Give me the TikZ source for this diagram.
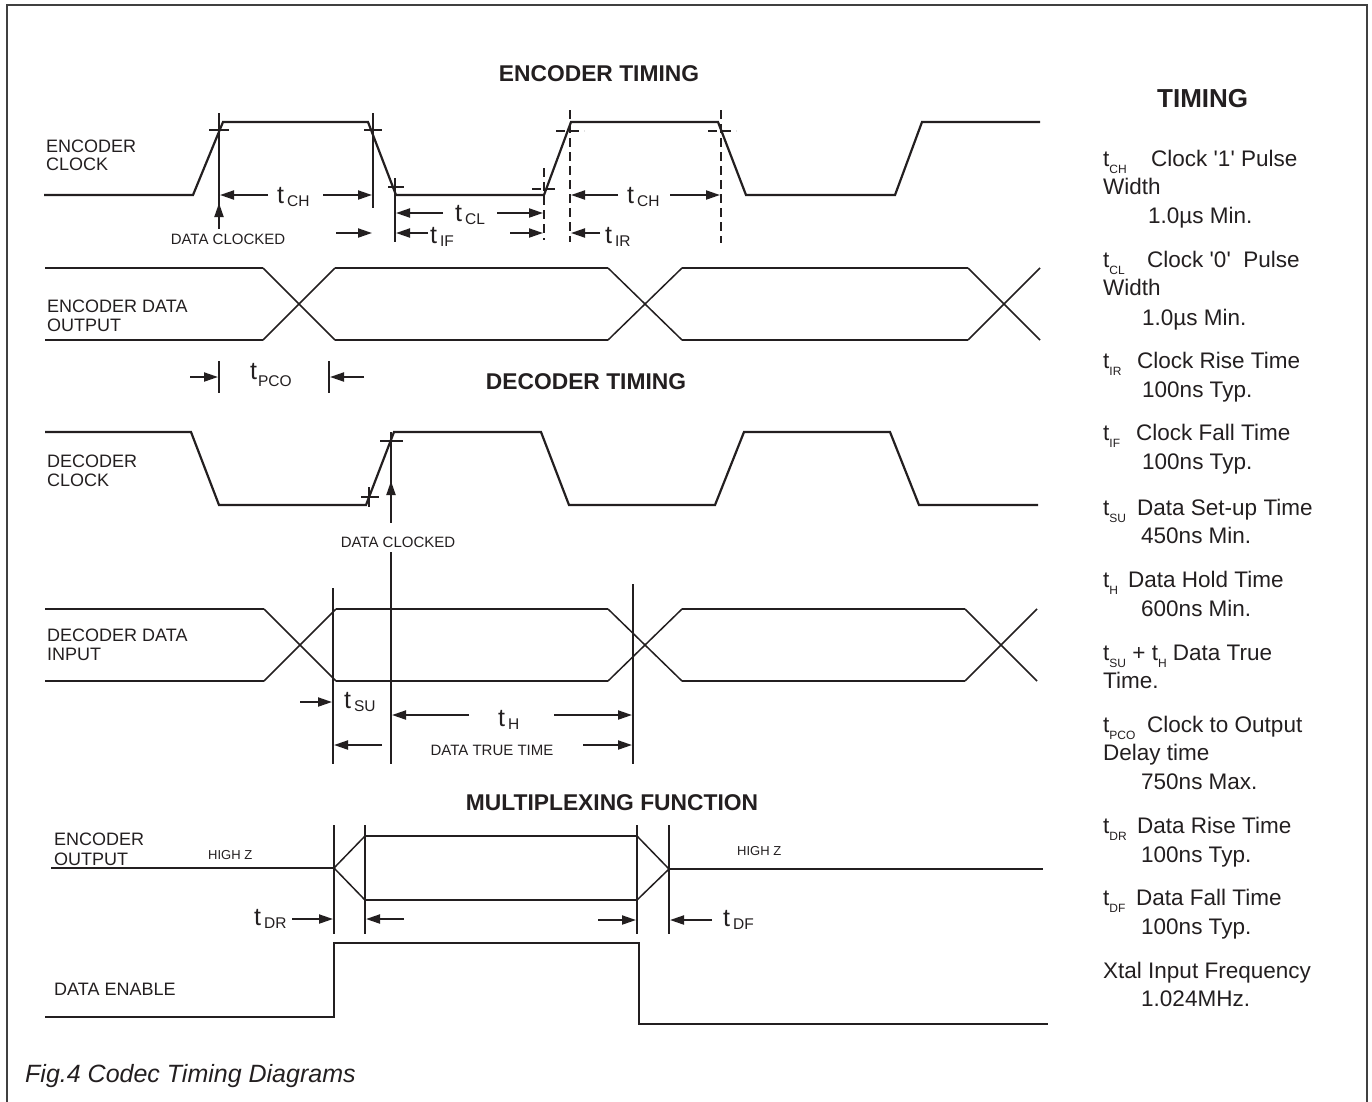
\documentclass[tikz,border=0pt]{standalone}
\usepackage{fontspec}
\setmainfont{Liberation Sans}
\usetikzlibrary{arrows.meta}
\definecolor{ink}{RGB}{35,31,32}
\newcommand\fs[1]{\fontsize{#1}{#1}\selectfont}
\newcommand\tsub[1]{{\fs{25}t}\hspace{3pt}{\fs{15.5}\raisebox{-3pt}{#1}}}
\newcommand\rsub[1]{{\fs{12}\raisebox{-7pt}{#1}}}
\newcommand\sq{\XeTeXglyph\XeTeXglyphindex "quotesingle"\relax}
\begin{document}
\begin{tikzpicture}[x=1pt,y=-1pt,line join=miter,
  sig/.style={draw=ink,line width=2.2pt},
  thn/.style={draw=ink,line width=1.5pt},
  mk/.style={draw=ink,line width=2pt},
  dsh/.style={draw=ink,line width=2pt,dash pattern=on 9pt off 5pt},
  arr/.style={draw=ink,line width=2pt,-{Triangle[length=14pt,width=9pt]}},
  lbl/.style={anchor=base west,inner sep=0pt,text=ink,font=\fs{18}},
  sml/.style={anchor=base,inner sep=0pt,text=ink,font=\fs{15}},
  hz/.style={anchor=base west,inner sep=0pt,text=ink,font=\fs{13}},
  tl/.style={anchor=base west,inner sep=0pt,text=ink},
  ttl/.style={anchor=base,inner sep=0pt,text=ink,font=\bfseries\fs{22.8}},
  rc/.style={anchor=base west,inner sep=0pt,text=ink,font=\fs{22.5}}]
\useasboundingbox (0,0) rectangle (1372,1101);
% frame
\draw[draw=black!75,line width=2pt] (6.5,1110) -- (6.5,5) -- (1366.5,5) -- (1366.5,1110);

% ---------------- ENCODER TIMING ----------------
\node[ttl] (tenc) at (599,81) {ENCODER TIMING};
\node[lbl] (le1) at (46,152) {ENCODER};
\node[lbl] (le2) at (46,170) {CLOCK};
\draw[sig] (44,195) -- (193,195) -- (223,122) -- (368,122) -- (396,195) -- (544,195) -- (571,122) -- (718,122) -- (746,195) -- (895,195) -- (922,122) -- (1040,122);
\draw[mk] (219,113) -- (219,229);
\draw[mk] (209,130) -- (229,130);
\draw[mk] (373,113) -- (373,208);
\draw[mk] (364,130) -- (382,130);
\draw[mk] (395,178) -- (395,242);
\draw[mk] (388,187) -- (404,187);
\draw[arr] (219,229) -- (219,203);
\node[sml] (dc1) at (228,244) {DATA CLOCKED};
\draw[arr] (268,195) -- (220,195);
\draw[arr] (323,195) -- (372,195);
\node[tl] (tch1) at (277,203) {\tsub{CH}};
\draw[arr] (443,213) -- (396,213);
\draw[arr] (497,213) -- (543,213);
\node[tl] (tcl) at (455,221) {\tsub{CL}};
\draw[arr] (336,233) -- (372,233);
\draw[arr] (428,233) -- (396,233);
\node[tl] (tif) at (430,243) {\tsub{IF}};
\draw[arr] (510,233) -- (543,233);
\draw[arr] (600,233) -- (571,233);
\node[tl] (tir) at (605,243) {\tsub{IR}};
\draw[dsh] (544,168) -- (544,240);
\draw[dsh] (532,189) -- (558,189);
\draw[dsh] (570,110) -- (570,242);
\draw[dsh] (556,131) -- (584,131);
\draw[dsh] (721,110) -- (721,243);
\draw[dsh] (708,131) -- (736,131);
\draw[arr] (618,195) -- (571,195);
\draw[arr] (670,195) -- (720,195);
\node[tl] (tch2) at (627,203) {\tsub{CH}};

% encoder data output
\node[lbl] (ld1) at (47,312) {ENCODER DATA};
\node[lbl] (ld2) at (47,331) {OUTPUT};
\draw[sig] (45,268) -- (263,268) (335,268) -- (608,268) (682,268) -- (968,268);
\draw[sig] (45,340) -- (263,340) (335,340) -- (608,340) (682,340) -- (968,340);
\draw[thn] (263,268) -- (335,340) (263,340) -- (335,268)
           (608,268) -- (682,340) (608,340) -- (682,268)
           (968,268) -- (1040,340) (968,340) -- (1040,268);
\draw[mk] (219,361) -- (219,393);
\draw[mk] (329,361) -- (329,393);
\draw[arr] (190,377) -- (218,377);
\draw[arr] (364,377) -- (330,377);
\node[tl] (tpco) at (250,379) {{\fs{25}t}\hspace{1pt}{\fs{15.5}\raisebox{-7pt}{PCO}}};

% ---------------- DECODER TIMING ----------------
\node[ttl] (tdec) at (586,389) {DECODER TIMING};
\node[lbl] (lc1) at (47,467) {DECODER};
\node[lbl] (lc2) at (47,486) {CLOCK};
\draw[sig] (45,432) -- (191,432) -- (219,505) -- (366,505) -- (394,432) -- (541,432) -- (569,505) -- (715,505) -- (744,432) -- (890,432) -- (919,505) -- (1038,505);
\draw[mk] (369,487) -- (369,507);
\draw[mk] (361,497) -- (379,497);
\draw[mk] (380,441) -- (403,441);
\draw[mk] (391,432) -- (391,523);
\draw[arr] (391,520) -- (391,481);
\node[sml] (dc2) at (398,547) {DATA CLOCKED};
\draw[mk] (391,552) -- (391,764);

\node[lbl] (li1) at (47,641) {DECODER DATA};
\node[lbl] (li2) at (47,660) {INPUT};
\draw[sig] (45,609) -- (264,609) (336,609) -- (608,609) (682,609) -- (965,609);
\draw[sig] (45,681) -- (264,681) (336,681) -- (608,681) (682,681) -- (965,681);
\draw[thn] (264,609) -- (336,681) (264,681) -- (336,609)
           (608,609) -- (682,681) (608,681) -- (682,609)
           (965,609) -- (1037,681) (965,681) -- (1037,609);
\draw[mk] (333,588) -- (333,764);
\draw[mk] (633,584) -- (633,764);
\draw[arr] (300,702) -- (332,702);
\node[tl] (tsu) at (344,708) {\tsub{SU}};
\draw[arr] (469,715) -- (392,715);
\draw[arr] (554,715) -- (632,715);
\node[tl] (th) at (498,726) {\tsub{H}};
\draw[arr] (382,745) -- (334,745);
\draw[arr] (583,745) -- (632,745);
\node[sml] (dtt) at (492,755) {DATA TRUE TIME};

% ---------------- MULTIPLEXING FUNCTION ----------------
\node[ttl] (tmux) at (612,810) {MULTIPLEXING FUNCTION};
\node[lbl] (lo1) at (54,845) {ENCODER};
\node[lbl] (lo2) at (54,865) {OUTPUT};
\node[hz] (hz1) at (208,859) {HIGH Z};
\node[hz] (hz2) at (737,855) {HIGH Z};
\draw[sig] (51,868) -- (334,868);
\draw[thn] (334,868) -- (365,836) (334,868) -- (365,900);
\draw[sig] (365,836) -- (637,836) (365,900) -- (637,900);
\draw[thn] (637,836) -- (669,869) (637,900) -- (669,869);
\draw[sig] (669,869) -- (1043,869);
\draw[mk] (334,825) -- (334,934);
\draw[mk] (365,825) -- (365,934);
\draw[mk] (637,825) -- (637,934);
\draw[mk] (669,825) -- (669,934);
\draw[arr] (292,919) -- (333,919);
\draw[arr] (404,919) -- (366,919);
\node[tl] (tdr) at (254,925) {\tsub{DR}};
\draw[arr] (598,920) -- (636,920);
\draw[arr] (712,920) -- (670,920);
\node[tl] (tdf) at (723,926) {\tsub{DF}};
\node[lbl] (len) at (54,995) {DATA ENABLE};
\draw[sig] (45,1017) -- (334,1017) -- (334,943) -- (639,943) -- (639,1024) -- (1048,1024);

\node[anchor=base west,inner sep=0pt,text=ink,font=\itshape\fs{25}] (cap) at (25,1082) {Fig.4 Codec Timing Diagrams};

% ---------------- right column ----------------
\node[anchor=base west,inner sep=0pt,text=ink,font=\bfseries\fs{26}] (tim) at (1157,107) {TIMING};
\node[rc] (r1a) at (1103,166) {t\rsub{CH}};
\node[rc] (r1b) at (1151,166) {Clock \sq1\sq\ Pulse};
\node[rc] (r1c) at (1103,194) {Width};
\node[rc] (r1d) at (1148,223) {1.0µs Min.};
\node[rc] (r2a) at (1103,267) {t\rsub{CL}};
\node[rc] (r2b) at (1147,267) {Clock \sq0\sq\ \ Pulse};
\node[rc] (r2c) at (1103,295) {Width};
\node[rc] (r2d) at (1142,325) {1.0µs Min.};
\node[rc] (r3a) at (1103,368) {t\rsub{IR}};
\node[rc] (r3b) at (1137,368) {Clock Rise Time};
\node[rc] (r3c) at (1142,397) {100ns Typ.};
\node[rc] (r4a) at (1103,440) {t\rsub{IF}};
\node[rc] (r4b) at (1136,440) {Clock Fall Time};
\node[rc] (r4c) at (1142,469) {100ns Typ.};
\node[rc] (r5a) at (1103,515) {t\rsub{SU}};
\node[rc] (r5b) at (1137,515) {Data Set-up Time};
\node[rc] (r5c) at (1141,543) {450ns Min.};
\node[rc] (r6a) at (1103,587) {t\rsub{H}};
\node[rc] (r6b) at (1128,587) {Data Hold Time};
\node[rc] (r6c) at (1141,616) {600ns Min.};
\node[rc] (r7a) at (1103,660) {t\rsub{SU} + t\rsub{H} Data True};
\node[rc] (r7b) at (1103,688) {Time.};
\node[rc] (r8a) at (1103,732) {t\rsub{PCO}};
\node[rc] (r8b) at (1147,732) {Clock to Output};
\node[rc] (r8c) at (1103,760) {Delay time};
\node[rc] (r8d) at (1141,789) {750ns Max.};
\node[rc] (r9a) at (1103,833) {t\rsub{DR}};
\node[rc] (r9b) at (1137,833) {Data Rise Time};
\node[rc] (r9c) at (1141,862) {100ns Typ.};
\node[rc] (r10a) at (1103,905) {t\rsub{DF}};
\node[rc] (r10b) at (1136,905) {Data Fall Time};
\node[rc] (r10c) at (1141,934) {100ns Typ.};
\node[rc] (r11a) at (1103,978) {Xtal Input Frequency};
\node[rc] (r11b) at (1141,1006) {1.024MHz.};
\end{tikzpicture}
\end{document}
